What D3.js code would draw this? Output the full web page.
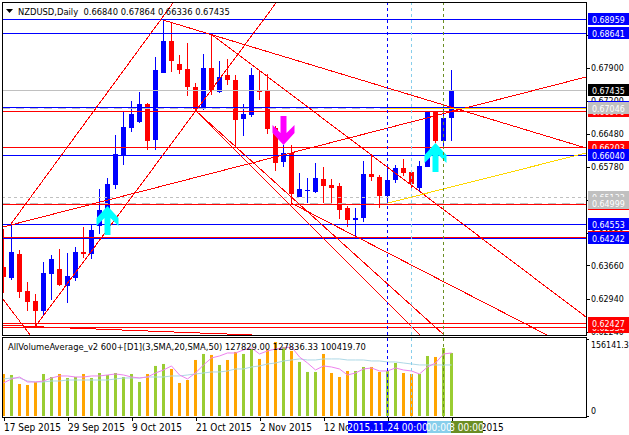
<!DOCTYPE html>
<html>
<head>
<meta charset="utf-8">
<script src="https://cdn.jsdelivr.net/npm/d3@7"></script>
<style>
  html, body { margin: 0; padding: 0; background: #fff; }
  svg { display: block; }
  text { font-family: "DejaVu Sans Condensed", "DejaVu Sans", sans-serif; font-size: 9.3px; fill: #000; }
  .axis .domain { display: none; }
  .axis line { stroke: #000; shape-rendering: crispEdges; }
  .right text { font-size: 8.8px; }
  .time text { font-size: 10px; }
</style>
</head>
<body>
<div id="chart"></div>
<script>
var svgWidth = 629;
var svgHeight = 435;

// daily candles, oldest first
var opens = [0.63628,0.63391,0.63907,0.63112,0.62898,0.62683,0.63477,0.63585,0.63220,0.63391,0.63950,0.63907,0.64508,0.64851,0.65388,0.66032,0.66612,0.66741,0.67127,0.66354,0.67793,0.68480,0.67986,0.67879,0.67492,0.67020,0.67900,0.67385,0.67750,0.67642,0.66805,0.66891,0.67428,0.67406,0.66612,0.65882,0.66075,0.65130,0.65259,0.65238,0.65517,0.65388,0.65367,0.64894,0.64637,0.64680,0.65624,0.65560,0.65152,0.65495,0.65753,0.65667,0.65324,0.65775,0.66961,0.66333,0.66840];
var highs = [0.64443,0.64572,0.63992,0.63305,0.63048,0.63735,0.63885,0.64014,0.63928,0.64057,0.64486,0.64529,0.65302,0.65538,0.66462,0.66977,0.67192,0.67385,0.67149,0.68136,0.68931,0.68866,0.68179,0.68437,0.67578,0.68201,0.68630,0.68050,0.68093,0.67750,0.67127,0.67900,0.67857,0.67771,0.66655,0.66247,0.66247,0.65646,0.65538,0.65860,0.65775,0.65517,0.65431,0.64937,0.64894,0.65903,0.66032,0.65603,0.65817,0.65817,0.65946,0.65667,0.65903,0.66870,0.66870,0.67106,0.67864];
var lows = [0.63069,0.63348,0.62962,0.62683,0.62361,0.62597,0.62919,0.63220,0.62855,0.63327,0.63821,0.63799,0.64336,0.64315,0.65302,0.65817,0.66526,0.66719,0.66139,0.66139,0.67793,0.67814,0.67771,0.67299,0.66998,0.66998,0.67320,0.67363,0.67535,0.66204,0.66440,0.66848,0.67213,0.66483,0.65689,0.65775,0.65002,0.65130,0.65002,0.65216,0.65002,0.65002,0.64658,0.64486,0.64250,0.64594,0.65474,0.64894,0.65002,0.65431,0.65581,0.65259,0.65238,0.65775,0.66290,0.66182,0.66336];
var closes = [0.63413,0.63950,0.63091,0.62876,0.62683,0.63499,0.63799,0.63241,0.63434,0.63950,0.63907,0.64422,0.64851,0.65410,0.66054,0.66633,0.66912,0.67127,0.66333,0.67857,0.68480,0.68050,0.67857,0.67492,0.67020,0.67900,0.67428,0.67707,0.67642,0.66784,0.66912,0.67750,0.67385,0.66590,0.65860,0.66075,0.65195,0.65302,0.65281,0.65538,0.65367,0.65324,0.64851,0.64637,0.64680,0.65624,0.65560,0.65152,0.65495,0.65753,0.65646,0.65410,0.65796,0.66961,0.66333,0.66827,0.67435];

// volume panel, in thousands
var volumes = [85.2,83.2,64.9,62.9,69.0,85.2,79.1,85.2,77.1,79.1,85.2,77.1,87.2,83.2,87.2,79.1,85.2,69.0,85.2,101.5,105.5,95.4,67.0,73.0,113.6,125.8,123.8,103.5,113.6,129.9,125.8,135.9,115.7,133.9,150.1,140.0,131.9,109.6,89.3,89.3,125.8,87.2,79.1,91.3,91.3,99.4,99.4,89.3,91.3,107.5,87.2,85.2,85.2,121.7,119.7,138.0,127.8];
var smaFast = [67.0,75.1,79.1,69.0,69.0,71.0,77.1,81.2,81.2,79.1,79.1,81.2,81.2,83.2,85.2,83.2,79.1,77.1,79.1,87.2,93.3,101.5,83.2,75.1,87.2,103.5,117.7,121.7,127.8,127.8,133.9,138.0,125.8,131.9,135.9,138.0,140.0,119.7,107.5,93.3,101.5,99.4,95.4,83.2,87.2,95.4,97.4,91.3,91.3,97.4,93.3,91.3,85.2,99.4,107.5,125.8,127.8];
var smaSlow = [75.1,77.1,77.1,71.0,69.0,69.0,71.0,71.0,73.0,73.0,73.0,73.0,73.0,73.0,75.1,77.1,77.1,77.1,79.1,79.1,79.1,81.2,81.2,83.2,85.2,87.2,89.3,89.3,91.3,95.4,95.4,99.4,101.5,105.5,107.5,111.6,113.6,115.7,113.6,113.6,115.7,115.7,115.7,113.6,113.6,113.6,111.6,111.6,109.6,109.6,107.5,105.5,103.5,103.5,103.5,103.5,103.5];

var priceTicks = [0.6861,0.679,0.672,0.6648,0.6578,0.6507,0.6435,0.6366,0.6294,0.6224];
var dateTicks = [0,8,16,24,32,40,48,56];
var dateLabels = ["17 Sep 2015","29 Sep 2015","9 Oct 2015","21 Oct 2015","2 Nov 2015","12 Nov 2015","24 Nov 2015","4 Dec 2015"];

// horizontal levels, drawn bottom to top on the price scale
var levelPrices = [0.67435,0.62334,0.62427,0.64272,0.64242,0.64553,0.64986,0.65133,0.64999,0.66203,0.66040,0.66970,0.67052,0.67046,0.68959,0.68641];
var levelColors = ["#c0c0c0","#ff0000","#ff0000","#ff0000","#0000ff","#0000ff","#ff0000","#c0c0c0","#c0c0c0","#ff0000","#0000ff","#ff0000","#0000ff","#c0c0c0","#0000ff","#0000ff"];
var levelDashes = [null,null,null,null,null,null,null,"3,3","8,6",null,null,null,null,"8,6",null,null];

// trend lines as [index, price, index, price]
var trendLines = [
  [1,0.64551,21.25,0.69296],
  [4,0.62339,34.125,0.69296],
  [20,0.68931,72.875,0.66182],
  [26,0.68630,72.875,0.62554],
  [36,0.65002,68,0.62168],
  [24,0.66998,55.125,0.62168],
  [24,0.66998,52.125,0.62168],
  [0,0.62940,3.375,0.62168],
  [0,0.64486,72.875,0.67707],
  [0,0.62382,5,0.62339],
  [3.375,0.62350,31.125,0.62168],
  [56.125,0.66977,57.25,0.67020]
];
var yellowTrend = [48.125,0.65002,72.875,0.66075];
var yellowLevel = [48,0.67035,72.875,0.67035];

var buyArrows = [[13,0.64937],[54,0.66290]];
var sellArrows = [[35,0.66247]];

var cursorIndex = [48,51,55];
var cursorColors = ["#0000ff","#87ceeb","#6b8e23"];
var cursorLabels = ["2015.11.24 00:00","2015.11.27 00:00","2015.12.03 00:00"];

var headerText = "NZDUSD,Daily  0.66840 0.67864 0.66336 0.67435";
var volumeText = "AllVolumeAverage_v2 600+[D1](3,SMA,20,SMA,50) 127829.00 127836.33 100419.70";

var margin = { left: 2, right: 586, top: 2, mainBottom: 335, subTop: 337, subBottom: 417 };

var svg = d3.select("#chart")
  .append("svg")
  .attr("width", svgWidth)
  .attr("height", svgHeight);

var xScale = d3.scaleLinear().domain([0, 72.875]).range([3, 586]);
var yScale = d3.scaleLinear().domain([0.6936, 0.62]).range([0, 342.8]);
var volScale = d3.scaleLinear().domain([0, 156.1413]).range([416, 339]);

var px = d => Math.round(xScale(d)) + 0.5;
var py = d => Math.round(yScale(d)) + 0.5;

svg.append("clipPath").attr("id", "mainClip").append("rect")
  .attr("x", margin.left).attr("y", margin.top)
  .attr("width", margin.right - margin.left).attr("height", margin.mainBottom - margin.top);
svg.append("clipPath").attr("id", "subClip").append("rect")
  .attr("x", margin.left).attr("y", margin.subTop)
  .attr("width", margin.right - margin.left).attr("height", margin.subBottom - margin.subTop);

var mainGroup = svg.append("g").attr("clip-path", "url(#mainClip)");
var subGroup = svg.append("g").attr("clip-path", "url(#subClip)");

// candles
var upColor = "#0000ff", downColor = "#ff0000";
var candleColor = i => closes[i] >= opens[i] ? upColor : downColor;

mainGroup.selectAll(".wick").data(d3.range(opens.length)).enter().append("line")
  .attr("x1", px).attr("x2", px)
  .attr("y1", i => yScale(highs[i])).attr("y2", i => yScale(lows[i]))
  .attr("stroke", candleColor)
  .attr("shape-rendering", "crispEdges");

mainGroup.selectAll(".body").data(d3.range(opens.length)).enter().append("rect")
  .attr("x", i => Math.round(xScale(i)) - 2)
  .attr("width", 5)
  .attr("y", i => Math.round(yScale(Math.max(opens[i], closes[i]))))
  .attr("height", i => Math.max(1, Math.round(Math.abs(yScale(opens[i]) - yScale(closes[i])))))
  .attr("fill", candleColor);

// horizontal levels
levelPrices.forEach((p, i) => {
  mainGroup.append("line")
    .attr("x1", margin.left).attr("x2", margin.right)
    .attr("y1", py(p)).attr("y2", py(p))
    .attr("stroke", levelColors[i])
    .attr("stroke-dasharray", levelDashes[i])
    .attr("shape-rendering", "crispEdges");
});

// trend lines
function addTrend(t, color) {
  mainGroup.append("line")
    .attr("x1", xScale(t[0])).attr("y1", yScale(t[1]))
    .attr("x2", xScale(t[2])).attr("y2", yScale(t[3]))
    .attr("stroke", color)
    .attr("shape-rendering", "crispEdges");
}
trendLines.forEach(t => addTrend(t, "#ff0000"));
addTrend(yellowTrend, "#ffd700");
addTrend(yellowLevel, "#ffd700");

// volume bars and averages
subGroup.selectAll(".vol").data(volumes).enter().append("rect")
  .attr("x", (d, i) => Math.round(xScale(i)) - 1)
  .attr("width", 3)
  .attr("y", d => volScale(d))
  .attr("height", d => volScale(0) - volScale(d))
  .attr("fill", (d, i) => closes[i] >= opens[i] ? "#9acd32" : "#ffa500");

var volLine = d3.line().x((d, i) => xScale(i) + 0.5).y(d => volScale(d));
subGroup.append("path").datum(smaSlow).attr("d", volLine)
  .attr("fill", "none").attr("stroke", "#add8e6");
subGroup.append("path").datum(smaFast).attr("d", volLine)
  .attr("fill", "none").attr("stroke", "#ee82ee");

// cursors through both windows
cursorIndex.forEach((c, i) => {
  svg.append("line")
    .attr("x1", px(c)).attr("x2", px(c))
    .attr("y1", margin.top).attr("y2", margin.subBottom)
    .attr("stroke", cursorColors[i])
    .attr("stroke-dasharray", "3,3")
    .attr("shape-rendering", "crispEdges");
});

// signal arrows, chevron outline around the tip
var arrowShape = [[0,0],[11,12],[11,20],[3,12],[3,29],[-3,29],[-3,12],[-11,20],[-11,12]];
var arrowLine = d3.line().curve(d3.curveLinearClosed);
function addArrow(a, dir, color) {
  mainGroup.append("path")
    .attr("d", arrowLine(arrowShape.map(s => [s[0] + xScale(a[0]) + 0.5, yScale(a[1]) + dir * s[1]])))
    .attr("fill", color);
}
buyArrows.forEach(a => addArrow(a, 1, "#00ffff"));
sellArrows.forEach(a => addArrow(a, -1, "#ff00ff"));

// frames
[[margin.top, margin.mainBottom], [margin.subTop, margin.subBottom]].forEach(f => {
  svg.append("rect")
    .attr("x", margin.left + 0.5).attr("y", f[0] + 0.5)
    .attr("width", margin.right - margin.left).attr("height", f[1] - f[0])
    .attr("fill", "none").attr("stroke", "#000")
    .attr("shape-rendering", "crispEdges");
});

// price axis
var priceAxis = d3.axisRight(yScale)
  .tickValues(priceTicks)
  .tickSize(3)
  .tickPadding(1)
  .tickFormat(d3.format(".5f"));
svg.append("g").attr("class", "axis right")
  .attr("transform", `translate(${margin.right + 1}, 0)`)
  .call(priceAxis);

// price labels, same order as the lines so the later ones cover the earlier
var labelGroup = svg.append("g").attr("class", "right");
var labelOrder = [1,2,3,4,5,6,7,8,9,10,11,12,13,0,14,15];
labelOrder.forEach(i => {
  var y = Math.round(yScale(levelPrices[i]));
  var fill = levelColors[i];
  if (i === 0) fill = "#000";
  labelGroup.append("rect")
    .attr("x", margin.right + 2).attr("y", y - 6)
    .attr("width", svgWidth - margin.right - 2).attr("height", 12)
    .attr("fill", fill);
  labelGroup.append("text")
    .attr("x", margin.right + 6).attr("y", y + 3.5)
    .style("fill", "#fff")
    .text(d3.format(".5f")(levelPrices[i]));
});

// volume axis
var volAxis = d3.axisRight(volScale)
  .tickValues([0, 156.1413])
  .tickSize(2)
  .tickPadding(2)
  .tickFormat(d => d ? "156141.3" : "0");
svg.append("g").attr("class", "axis right")
  .attr("transform", `translate(${margin.right + 1}, 0)`)
  .call(volAxis)
  .selectAll("text")
  .attr("dy", d => d ? "0.95em" : "-0.3em");

// time axis
var timeAxis = d3.axisBottom(xScale)
  .tickValues(dateTicks)
  .tickSize(3)
  .tickPadding(3)
  .tickFormat((d, i) => dateLabels[i]);
svg.append("g").attr("class", "axis time")
  .attr("transform", `translate(0.5, ${margin.subBottom + 0.5})`)
  .call(timeAxis)
  .selectAll("text")
  .attr("text-anchor", "start")
  .attr("dx", "0");

// time labels of the cursors, first in the list ends up on top
var cursorGroup = svg.append("g").attr("class", "time");
cursorIndex.slice().reverse().forEach((c, j) => {
  var i = cursorIndex.length - 1 - j;
  cursorGroup.append("rect")
    .attr("x", px(c) - 39.5).attr("y", margin.subBottom + 4)
    .attr("width", 79).attr("height", 12)
    .attr("fill", cursorColors[i]);
  cursorGroup.append("text")
    .attr("x", px(c)).attr("y", margin.subBottom + 13.5)
    .attr("text-anchor", "middle")
    .style("fill", "#fff")
    .text(cursorLabels[i]);
});

// titles
svg.append("path")
  .attr("d", d3.line()([[6,9],[13,9],[9.5,13]]))
  .attr("fill", "#000");
svg.append("text").attr("x", 18).attr("y", 14.5)
  .style("white-space", "pre").text(headerText);
svg.append("text").attr("x", 8).attr("y", 350).text(volumeText);
</script>
</body>
</html>
